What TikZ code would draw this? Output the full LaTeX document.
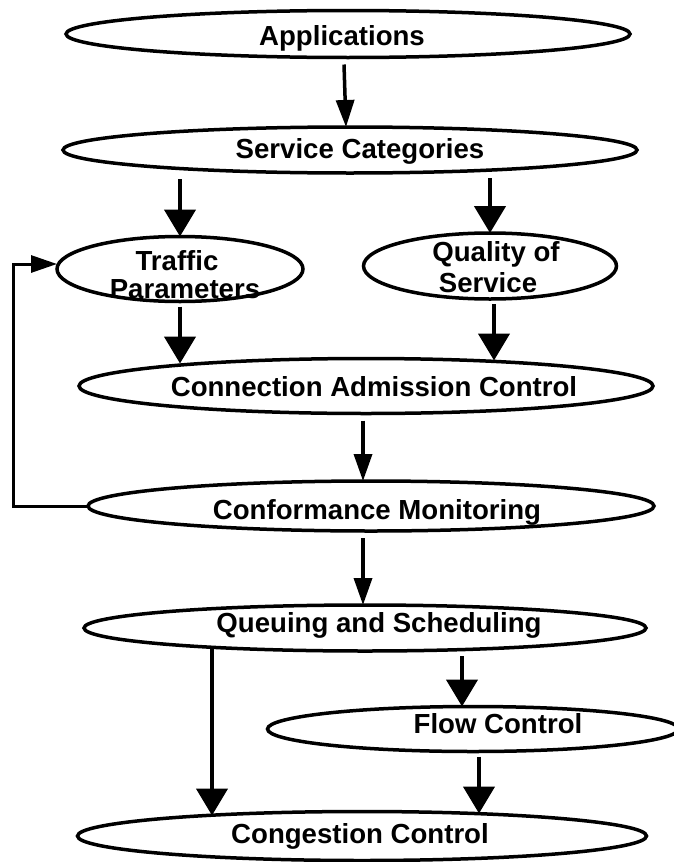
\documentclass[tikz,border=0pt]{standalone}
\usepackage{fontspec}
\setmainfont{Liberation Sans}
\usetikzlibrary{arrows.meta,shapes.geometric,calc}
\begin{document}
\begin{tikzpicture}[x=1pt,y=-1pt,
  ell/.style={draw, ellipse, line width=3.5pt, inner sep=0pt, outer sep=0pt},
  txt/.style={font=\fontsize{27.6}{30}\selectfont\bfseries, inner sep=0pt, anchor=base},
  bigarr/.style={line width=4.5pt, -{Triangle[length=27pt,width=31pt]}},
  smallarr/.style={line width=3.5pt, -{Triangle[length=27pt,width=18pt]}},
  fbarr/.style={line width=3pt, -{Triangle[length=26pt,width=17pt]}}]
\fill[white] (0,0) rectangle (674,862);
\useasboundingbox (0,0) rectangle (674,862);

% ellipses
\node[ell, minimum width=564pt, minimum height=47pt] (app) at (348,34) {};
\node[ell, minimum width=574pt, minimum height=46pt] (sc)  at (350,150) {};
\node[ell, minimum width=246pt, minimum height=65pt] (tp)  at (180,269) {};
\node[ell, minimum width=253pt, minimum height=66pt] (qos) at (490,266) {};
\node[ell, minimum width=574pt, minimum height=55pt] (cac) at (366,386) {};
\node[ell, minimum width=566pt, minimum height=50pt] (cm)  at (371,506) {};
\node[ell, minimum width=562pt, minimum height=46pt] (qs)  at (365,628) {};
\node[ell, minimum width=411pt, minimum height=45pt] (fc)  at (473,729) {};
\node[ell, minimum width=569pt, minimum height=49pt] (cc)  at (362,836) {};

% texts
\node[txt] (appT) at (342,45) {Applications};
\node[txt] (scT)  at (360,158) {Service Categories};
\node[txt] (tpA)  at (177,270) {Traffic};
\node[txt] (tpB)  at (185,298) {Parameters};
\node[txt] (qosA) at (496,261) {Quality of};
\node[txt] (qosB) at (488,292) {Service};
\node[txt] (cacT) at (374,396) {Connection Admission Control};
\node[txt] (cmT)  at (377,519) {Conformance Monitoring};
\node[txt] (qsT)  at (379,632) {Queuing and Scheduling};
\node[txt] (fcT)  at (498,733) {Flow Control};
\node[txt] (ccT)  at (360,843) {Congestion Control};

% connectors
\draw[smallarr] ($(app.south)+(-4,7)$) -- ($(sc.north)+(-4,0)$);
\draw[bigarr] ($(sc.south)+(-170,6)$) -- (tp.north);
\draw[bigarr] ($(sc.south)+(140,5)$) -- (qos.north);
\draw[bigarr] ($(tp.south)+(0,5)$) -- ($(tp.south |- cac.north)+(0,5)$);
\draw[bigarr] ($(qos.south)+(4,5)$) -- ($(qos.south |- cac.north)+(4,2)$);
\draw[smallarr] ($(cac.south)+(-3,7)$) -- ($(cm.north)+(-8,0)$);
\draw[smallarr] ($(cm.south)+(-8,7)$) -- ($(qs.north)+(-2,0)$);
\draw[bigarr] ($(qs.south)+(-153,-3)$) -- ($(cc.north)+(-150,4)$);
\draw[bigarr] ($(qs.south)+(97,5)$) -- ($(fc.north)+(-11,0)$);
\draw[bigarr] ($(fc.south)+(6,5)$) -- ($(cc.north)+(117,2)$);
\draw[fbarr] (cm.west) -| ($(tp.west)+(-44,-5)$) -- ($(tp.west)+(0,-5)$);
\end{tikzpicture}
\end{document}
